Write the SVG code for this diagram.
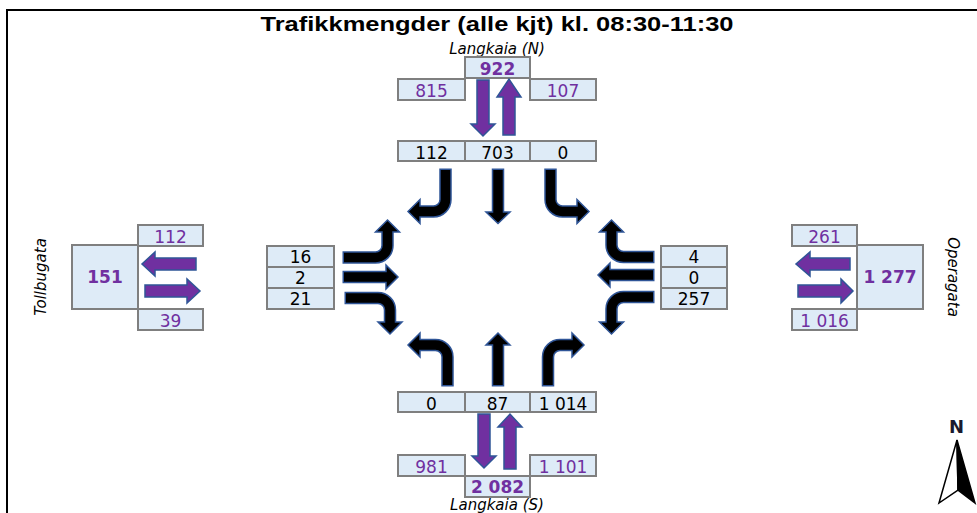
<svg xmlns="http://www.w3.org/2000/svg" width="977" height="513" viewBox="0 0 977 513">
  <style>
    .bx { fill: #deebf7; stroke: #7f7f7f; stroke-width: 2; }
    .n { font-family: "DejaVu Sans", Verdana, sans-serif; font-size: 17px; text-anchor: middle; fill: #000; }
    .p { fill: #7030a0; }
    .b { font-weight: bold; }
    .lbl { font-family: "DejaVu Sans", Verdana, sans-serif; font-size: 15px; font-style: italic; text-anchor: middle; fill: #000; }
    .pa { fill: #7030a0; stroke: #2f5597; stroke-width: 1.5; stroke-linejoin: miter; }
    .so { fill: none; stroke: #2f5597; stroke-width: 12.5; }
    .si { fill: none; stroke: #000; stroke-width: 9.5; }
    .hd { fill: #000; stroke: #2f5597; stroke-width: 1.5; stroke-linejoin: miter; }
  </style>

  <rect width="977" height="513" fill="#fff"/>
  <!-- frame -->
  <path d="M7,520 V10 H990" fill="none" stroke="#000" stroke-width="2"/>

  <text x="497" y="31" font-family="Liberation Sans, Arial, sans-serif" font-size="20" font-weight="bold" text-anchor="middle" textLength="473" lengthAdjust="spacingAndGlyphs">Trafikkmengder (alle kjt) kl. 08:30-11:30</text>

  <!-- North approach: Langkaia (N) -->
  <g id="north">
    <text class="lbl" x="497" y="54">Langkaia (N)</text>
    <rect class="bx" x="465" y="57" width="65" height="21"/>
    <text class="n p b" x="497.5" y="75">922</text>
    <rect class="bx" x="398" y="79" width="67" height="21"/>
    <text class="n p" x="431.5" y="97">815</text>
    <rect class="bx" x="530" y="79" width="66" height="21"/>
    <text class="n p" x="563" y="97">107</text>
    <polygon class="pa" points="477,80 489,80 489,124 495,124 483,136 471,124 477,124"/>
    <polygon class="pa" points="503,135 515,135 515,97 521,97 509,79 497,97 503,97"/>
    <rect class="bx" x="398" y="141" width="67" height="20"/>
    <rect class="bx" x="465" y="141" width="65" height="20"/>
    <rect class="bx" x="530" y="141" width="66" height="20"/>
    <text class="n" x="431.5" y="158.5">112</text>
    <text class="n" x="497.5" y="158.5">703</text>
    <text class="n" x="563" y="158.5">0</text>
  </g>

  <!-- West approach: Tollbugata -->
  <g id="west">
    <text class="lbl" transform="translate(46,277) rotate(-90)">Tollbugata</text>
    <rect class="bx" x="72" y="245" width="66" height="64"/>
    <text class="n p b" x="105" y="283">151</text>
    <rect class="bx" x="138" y="225" width="65" height="21"/>
    <text class="n p" x="170.5" y="243">112</text>
    <rect class="bx" x="138" y="309" width="65" height="21"/>
    <text class="n p" x="170.5" y="327">39</text>
    <polygon class="pa" points="196,258 196,270 155,270 155,276 142,264 155,252 155,258"/>
    <polygon class="pa" points="145,285 145,297 187,297 187,303 200,291 187,279 187,285"/>
    <rect class="bx" x="267" y="246" width="67" height="21"/>
    <rect class="bx" x="267" y="267" width="67" height="21"/>
    <rect class="bx" x="267" y="288" width="67" height="21"/>
    <text class="n" x="300.5" y="263">16</text>
    <text class="n" x="300.5" y="284">2</text>
    <text class="n" x="300.5" y="305">21</text>
  </g>

  <!-- East approach: Operagata -->
  <g id="east">
    <text class="lbl" transform="translate(948,277) rotate(90)">Operagata</text>
    <rect class="bx" x="857" y="245" width="66" height="64"/>
    <text class="n p b" x="890" y="283">1 277</text>
    <rect class="bx" x="792" y="225" width="65" height="21"/>
    <text class="n p" x="824.5" y="243">261</text>
    <rect class="bx" x="792" y="309" width="65" height="21"/>
    <text class="n p" x="824.5" y="327">1 016</text>
    <polygon class="pa" points="850,258 850,270 810,270 810,276 796,264 810,252 810,258"/>
    <polygon class="pa" points="798,285 798,297 841,297 841,303 853,291 841,279 841,285"/>
    <rect class="bx" x="661" y="246" width="66" height="21"/>
    <rect class="bx" x="661" y="267" width="66" height="21"/>
    <rect class="bx" x="661" y="288" width="66" height="21"/>
    <text class="n" x="694" y="263">4</text>
    <text class="n" x="694" y="284">0</text>
    <text class="n" x="694" y="305">257</text>
  </g>

  <!-- South approach: Langkaia (S) -->
  <g id="south">
    <rect class="bx" x="398" y="392" width="67" height="20"/>
    <rect class="bx" x="465" y="392" width="65" height="20"/>
    <rect class="bx" x="530" y="392" width="66" height="20"/>
    <text class="n" x="431.5" y="409.5">0</text>
    <text class="n" x="497.5" y="409.5">87</text>
    <text class="n" x="563" y="409.5">1 014</text>
    <polygon class="pa" points="478,414 490,414 490,456 496,456 484,468 472,456 478,456"/>
    <polygon class="pa" points="504,469 516,469 516,427 522,427 510,414 498,427 504,427"/>
    <rect class="bx" x="398" y="455" width="67" height="21"/>
    <text class="n p" x="431.5" y="473">981</text>
    <rect class="bx" x="530" y="455" width="66" height="21"/>
    <text class="n p" x="563" y="473">1 101</text>
    <rect class="bx" x="465" y="476" width="65" height="21"/>
    <text class="n p b" x="497.5" y="493">2 082</text>
    <text class="lbl" x="497" y="510" font-size="12.5">Langkaia (S)</text>
  </g>

  <!-- turning movements -->
  <g id="movements">
    <!-- from north -->
    <path class="so" d="M445.5,168.5 V199.5 A12,12 0 0 1 433.5,211.5 H420"/>
    <polygon class="hd" points="420,199.5 420,223.5 408,211.5"/>
    <path class="si" d="M445.5,170 V199.5 A12,12 0 0 1 433.5,211.5 H419"/>

    <path class="so" d="M498,168.5 V212"/>
    <polygon class="hd" points="486,212 510,212 498,223.5"/>
    <path class="si" d="M498,170 V213"/>

    <path class="so" d="M550.5,168.5 V199.5 A12,12 0 0 0 562.5,211.5 H577"/>
    <polygon class="hd" points="577,199.5 577,223.5 589,211.5"/>
    <path class="si" d="M550.5,170 V199.5 A12,12 0 0 0 562.5,211.5 H578"/>

    <!-- from west -->
    <path class="so" d="M342.5,257.5 H375.5 A12,12 0 0 0 387.5,245.5 V232"/>
    <polygon class="hd" points="375.5,232 399.5,232 387.5,220"/>
    <path class="si" d="M344,257.5 H375.5 A12,12 0 0 0 387.5,245.5 V231"/>

    <path class="so" d="M342.5,277 H386"/>
    <polygon class="hd" points="386,265 386,289 398,277"/>
    <path class="si" d="M344,277 H387"/>

    <path class="so" d="M344.5,298 H378 A12,12 0 0 1 390,310 V322"/>
    <polygon class="hd" points="378,322 402,322 390,334"/>
    <path class="si" d="M346,298 H378 A12,12 0 0 1 390,310 V323"/>

    <!-- from east -->
    <path class="so" d="M654.5,257 H623.5 A12,12 0 0 1 611.5,245 V232"/>
    <polygon class="hd" points="599.5,232 623.5,232 611.5,220"/>
    <path class="si" d="M653,257 H623.5 A12,12 0 0 1 611.5,245 V231"/>

    <path class="so" d="M654.5,275 H610"/>
    <polygon class="hd" points="610,263 610,287 598,275"/>
    <path class="si" d="M653,275 H609"/>

    <path class="so" d="M654.5,297 H623.5 A12,12 0 0 0 611.5,309 V322"/>
    <polygon class="hd" points="599.5,322 623.5,322 611.5,334"/>
    <path class="si" d="M653,297 H623.5 A12,12 0 0 0 611.5,309 V323"/>

    <!-- from south -->
    <path class="so" d="M447.5,386.5 V357 A12,12 0 0 0 435.5,345 H420"/>
    <polygon class="hd" points="420,333 420,357 408,345"/>
    <path class="si" d="M447.5,385 V357 A12,12 0 0 0 435.5,345 H419"/>

    <path class="so" d="M498,386.5 V345"/>
    <polygon class="hd" points="486,345 510,345 498,333"/>
    <path class="si" d="M498,385 V344"/>

    <path class="so" d="M548,386.5 V357 A12,12 0 0 1 560,345 H572"/>
    <polygon class="hd" points="572,333 572,357 584,345"/>
    <path class="si" d="M548,385 V357 A12,12 0 0 1 560,345 H573"/>
  </g>

  <!-- north arrow -->
  <g id="compass">
    <text x="956.5" y="433" font-family="DejaVu Sans, Verdana, sans-serif" font-size="18" font-weight="bold" text-anchor="middle" fill="#1a1a2e">N</text>
    <polygon points="957,440 939,503 958,490" fill="#fff" stroke="#000" stroke-width="1.5" stroke-linejoin="miter"/>
    <polygon points="957,440 975,503 958,490" fill="#000" stroke="#000" stroke-width="1.5" stroke-linejoin="miter"/>
  </g>
</svg>
